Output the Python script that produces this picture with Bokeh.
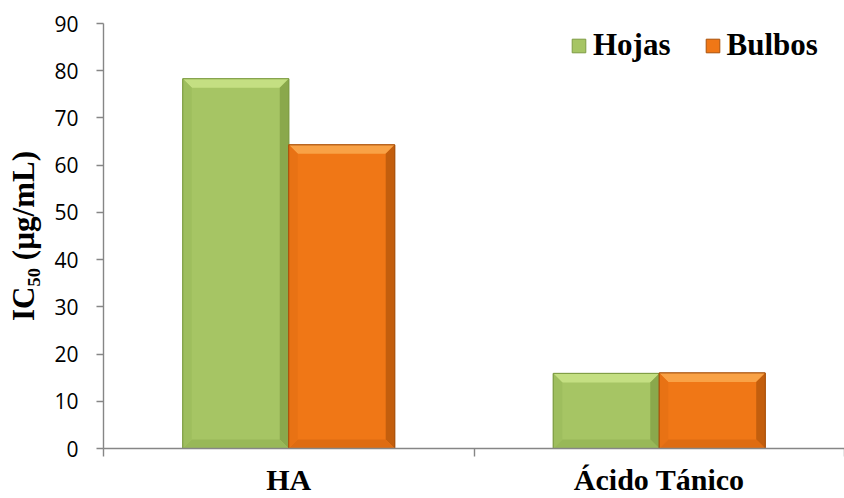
from bokeh.embed import file_html
from bokeh.models import ColumnDataSource, FixedTicker, Legend, LegendItem, Range1d
from bokeh.plotting import figure
from bokeh.resources import INLINE

# ---- data -------------------------------------------------------------
categories = ["HA", "Ácido Tánico"]
series_names = ["Hojas", "Bulbos"]
hojas = [78.3, 15.9]
bulbos = [64.3, 16.0]
y_ticks = [0, 10, 20, 30, 40, 50, 60, 70, 80, 90]
y_title = "IC₅₀ (µg/mL)"

# ---- styling ----------------------------------------------------------
W, H = 844, 498
LEFT, TOP, BOTTOM = 103, 23, 50
FRAME_W, FRAME_H = W - LEFT, H - TOP - BOTTOM
Y_MAX = 90
BAR_W = 0.286           # width of one bar as a fraction of a category slot
BEVEL_PX = 9            # bevel band thickness in pixels
AXIS_GREY = "#868686"
SERIF = "Liberation Serif"

palette = {
    "Hojas": dict(face="#A6C564", top="#C4DF82", right="#8AA84C", bottom="#98B858",
                  left="#9EBE5E", line="#7E9C44"),
    "Bulbos": dict(face="#F07716", top="#F9A246", right="#C35E0D", bottom="#DE6C12",
                   left="#E87214", line="#A9520C"),
}

n_cat = len(categories)
p = figure(
    width=W, height=H,
    x_range=Range1d(0, n_cat), y_range=Range1d(0, Y_MAX),
    output_backend="svg", toolbar_location=None,
    min_border_left=LEFT, min_border_right=0,
    min_border_top=TOP, min_border_bottom=BOTTOM,
)
p.outline_line_color = None
p.xgrid.visible = False
p.ygrid.visible = False
p.background_fill_color = "white"
p.border_fill_color = "white"

# pixel -> data unit conversions for the bevel bands
bx = BEVEL_PX * n_cat / FRAME_W
by = BEVEL_PX * Y_MAX / FRAME_H

renderers = {}
for k, (name, vals) in enumerate(zip(series_names, [hojas, bulbos])):
    centers = [i + 0.5 for i in range(n_cat)]
    lefts = [c - BAR_W + k * BAR_W for c in centers]
    rights = [l + BAR_W for l in lefts]
    src = ColumnDataSource(dict(left=lefts, right=rights, top=vals, bottom=[0] * n_cat))
    col = palette[name]
    r = p.quad(left="left", right="right", top="top", bottom="bottom", source=src,
               fill_color=col["face"], line_color=col["line"], line_width=1)
    renderers[name] = r

    # bevel bands: top, right, bottom, left trapezoids
    for part in ("top", "right", "bottom", "left"):
        xs, ys = [], []
        for x0, x1, t in zip(lefts, rights, vals):
            if part == "top":
                xs.append([x0, x1, x1 - bx, x0 + bx]); ys.append([t, t, t - by, t - by])
            elif part == "right":
                xs.append([x1, x1, x1 - bx, x1 - bx]); ys.append([t, 0, by, t - by])
            elif part == "bottom":
                xs.append([x0, x1, x1 - bx, x0 + bx]); ys.append([0, 0, by, by])
            else:
                xs.append([x0, x0, x0 + bx, x0 + bx]); ys.append([0, t, t - by, by])
        p.patches(xs=xs, ys=ys, fill_color=col[part], line_color=None)
    p.quad(left="left", right="right", top="top", bottom="bottom", source=src,
           fill_color=None, line_color=col["line"], line_width=1)

# ---- axes -------------------------------------------------------------
ya = p.yaxis[0]
ya.ticker = FixedTicker(ticks=y_ticks)
ya.axis_line_color = AXIS_GREY
ya.axis_line_width = 1.4
ya.major_tick_line_color = AXIS_GREY
ya.major_tick_line_width = 1.4
ya.major_tick_out = 7
ya.major_tick_in = 0
ya.minor_tick_line_color = None
ya.major_label_text_font = "Open Sans"
ya.major_label_text_font_size = "21px"
ya.major_label_text_color = "#000000"
ya.major_label_standoff = 18
ya.axis_label = y_title
ya.axis_label_text_font = SERIF
ya.axis_label_text_font_style = "bold"
ya.axis_label_text_font_size = "31px"
ya.axis_label_text_color = "black"
ya.axis_label_standoff = 10

# category names at slot centres, slot boundaries marked by minor ticks
xa = p.xaxis[0]
centers = [i + 0.5 for i in range(n_cat)]
xa.ticker = FixedTicker(ticks=centers, minor_ticks=list(range(n_cat + 1)))
xa.major_label_overrides = {c: cat for c, cat in zip(centers, categories)}
xa.axis_line_color = AXIS_GREY
xa.axis_line_width = 1.4
xa.major_tick_line_color = None
xa.major_tick_out = 0
xa.major_tick_in = 0
xa.minor_tick_line_color = AXIS_GREY
xa.minor_tick_line_width = 1.4
xa.minor_tick_out = 8
xa.minor_tick_in = 0
xa.major_label_text_font = SERIF
xa.major_label_text_font_style = "bold"
xa.major_label_text_font_size = "30px"
xa.major_label_text_color = "black"
xa.major_label_standoff = 6

# ---- legend -----------------------------------------------------------
legend = Legend(
    items=[LegendItem(label=n, renderers=[renderers[n]]) for n in series_names],
    orientation="horizontal", location=(467, 385),
    glyph_width=17, glyph_height=17, label_standoff=6, spacing=33,
    padding=0, margin=0, border_line_alpha=0, background_fill_alpha=0,
    label_text_font=SERIF, label_text_font_style="bold",
    label_text_font_size="31px", label_text_color="black",
)
p.add_layout(legend)

open("out.html", "w").write(file_html(p, INLINE))
